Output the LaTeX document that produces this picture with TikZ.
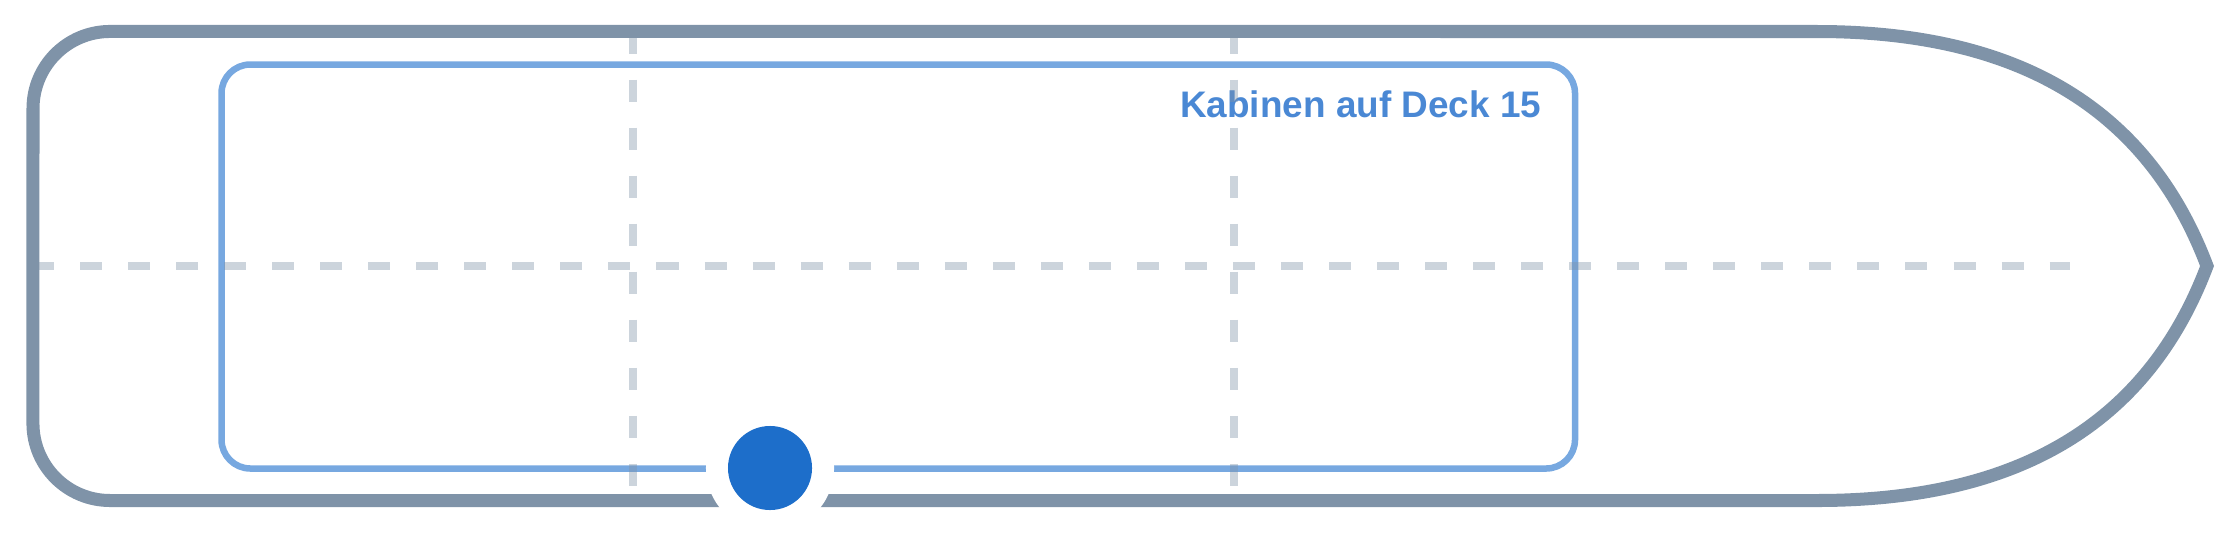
\documentclass[tikz,border=0pt]{standalone}
\usepackage{fontspec}
\setmainfont{Liberation Sans}
\usepackage{xcolor}
\definecolor{hullgray}{RGB}{127,147,168}
\definecolor{cabinblue}{RGB}{119,168,224}
\definecolor{labelblue}{RGB}{74,136,212}
\definecolor{dotblue}{RGB}{29,110,202}
\tikzset{
    x=0.01cm, y=-0.01cm % one unit is one pixel of the plan
}
\tikzstyle{hull}=[
    draw = hullgray,
    line width = 3.7pt,
    line join = miter
]
\tikzstyle{cabins}=[
    draw = cabinblue,
    line width = 1.85pt,
    rounded corners = 8.2pt
]
\tikzstyle{axis}=[
    hullgray,
    opacity = 0.4,
    line width = 2.28pt,
    dash pattern = on 6.26pt off 7.4pt
]
\tikzstyle{halo}=[
    circle,
    fill = white,
    inner sep = 0cm,
    minimum size = 1.28cm
]
\tikzstyle{marker}=[
    circle,
    fill = dotblue,
    inner sep = 0cm,
    minimum size = 0.84cm
]
\tikzstyle{deckname}=[
    text = labelblue,
    font = \fontsize{10.5pt}{13pt}\selectfont\bfseries,
    inner sep = 0cm
]

\begin{document}
\begin{tikzpicture}
    \useasboundingbox (0, 0) rectangle (2240, 533);

    \coordinate (bow) at (2207, 266);
    \coordinate (stern) at (1817, 31.5);

    \draw [cabins] (221.5, 64.5) rectangle (1575, 468.5);
    \node [deckname, anchor = base east] (deck) at (1542, 117) {Kabinen auf Deck 15};

    \draw [axis] (32, 266) -- (2070, 266);
    \foreach \x in {633, 1233.5}
        \draw [axis] (\x, 31.5) -- (\x, 500.5);

    \draw [hull] (stern) .. controls (2020, 31.5) and (2148, 109.7) .. (bow)
        .. controls (2148, 422.3) and (2020, 500.5) .. (1817, 500.5)
        -- (110, 500.5) arc [start angle = 270, end angle = 180, radius = 0.77cm]
        -- (33, 108.5) arc [start angle = 180, end angle = 90, radius = 0.77cm]
        -- cycle;

    \node [halo] (gap) at (770, 468) {};
    \node [marker] (pin) at (gap) {};
\end{tikzpicture}
\end{document}
